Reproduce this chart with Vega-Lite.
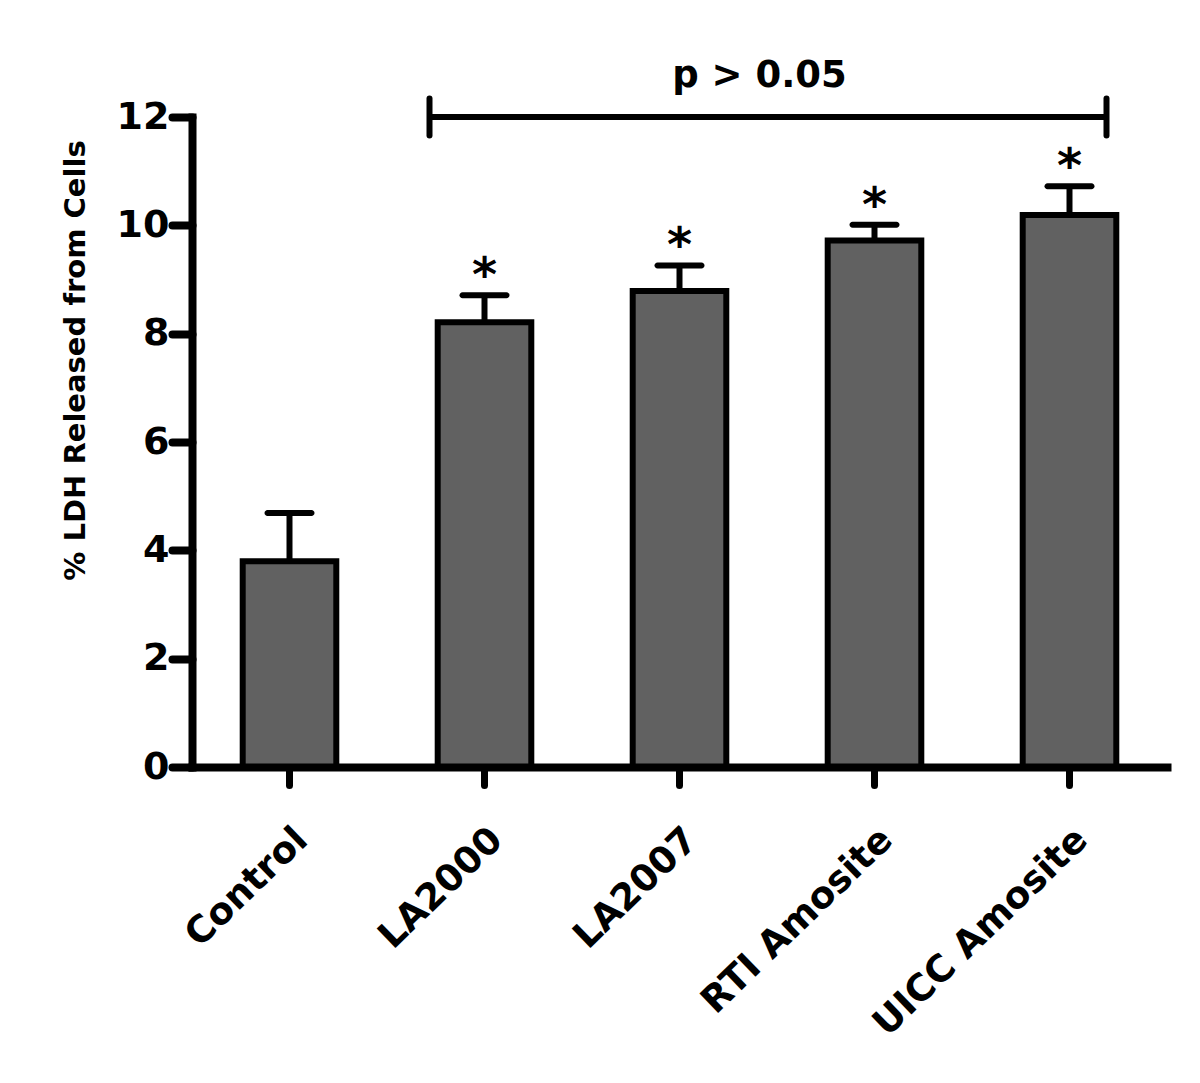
{
  "$schema": "https://vega.github.io/schema/vega-lite/v6.json",
  "width": 975,
  "height": 650,
  "autosize": {"type": "none"},
  "padding": {"left": 192, "top": 117, "right": 33, "bottom": 316},
  "background": "white",
  "config": {"view": {"stroke": null}, "font": "DejaVu Sans"},
  "datasets": {
    "bars": [
      {"group": "Control", "value": 3.80, "upper": 4.69, "sig": ""},
      {"group": "LA2000", "value": 8.21, "upper": 8.71, "sig": "*"},
      {"group": "LA2007", "value": 8.79, "upper": 9.26, "sig": "*"},
      {"group": "RTI Amosite", "value": 9.72, "upper": 10.01, "sig": "*"},
      {"group": "UICC Amosite", "value": 10.19, "upper": 10.72, "sig": "*"}
    ],
    "bracket": [
      {"from": "LA2000", "to": "UICC Amosite", "label": "p > 0.05"}
    ]
  },
  "layer": [
    {
      "data": {"name": "bars"},
      "mark": {"type": "bar", "fill": "#616161", "stroke": "black", "strokeWidth": 6},
      "encoding": {
        "x": {
          "field": "group",
          "type": "nominal",
          "sort": null,
          "scale": {"domain": ["Control", "LA2000", "LA2007", "RTI Amosite", "UICC Amosite"], "paddingInner": 0.52, "paddingOuter": 0.26},
          "axis": {
            "title": null,
            "zindex": 1,
            "domainWidth": 8,
            "domainColor": "black",
            "domainCap": "square",
            "tickWidth": 7,
            "tickColor": "black",
            "tickSize": 18,
            "tickCap": "round",
            "labelAngle": -44,
            "labelAlign": "right",
            "labelBaseline": "top",
            "labelFont": "DejaVu Sans",
            "labelFontWeight": "bold",
            "labelFontSize": 37,
            "labelColor": "black",
            "labelPadding": 36,
            "labelOffset": 0,
            "labelLimit": 0,
            "labelOverlap": false,
            "grid": false
          }
        },
        "y": {
          "field": "value",
          "type": "quantitative",
          "scale": {"domain": [0, 12], "nice": false},
          "axis": {
            "title": "% LDH Released from Cells",
            "zindex": 1,
            "values": [0, 2, 4, 6, 8, 10, 12],
            "format": "d",
            "domainWidth": 8,
            "domainColor": "black",
            "domainCap": "square",
            "tickWidth": 8,
            "tickColor": "black",
            "tickSize": 20,
            "tickCap": "round",
            "labelFont": "DejaVu Sans",
            "labelFontWeight": "bold",
            "labelFontSize": 38,
            "labelColor": "black",
            "labelPadding": 3,
            "titleFont": "DejaVu Sans",
            "titleFontWeight": "bold",
            "titleFontSize": 29,
            "titleColor": "black",
            "titleAngle": -90,
            "titleAlign": "center",
            "titleBaseline": "middle",
            "titleX": -117,
            "titleY": 243,
            "grid": false
          }
        }
      }
    },
    {
      "data": {"name": "bars"},
      "mark": {"type": "rule", "color": "black", "strokeWidth": 6},
      "encoding": {
        "x": {"field": "group", "type": "nominal"},
        "y": {"field": "value", "type": "quantitative"},
        "y2": {"field": "upper"}
      }
    },
    {
      "data": {"name": "bars"},
      "mark": {"type": "tick", "color": "black", "size": 50, "thickness": 6, "cornerRadius": 3, "opacity": 1},
      "encoding": {
        "x": {"field": "group", "type": "nominal"},
        "y": {"field": "upper", "type": "quantitative"}
      }
    },
    {
      "data": {"name": "bars"},
      "mark": {"type": "text", "font": "DejaVu Sans", "fontWeight": "bold", "fontSize": 48, "color": "black", "baseline": "alphabetic", "align": "center", "dy": -4},
      "encoding": {
        "x": {"field": "group", "type": "nominal"},
        "y": {"field": "upper", "type": "quantitative"},
        "text": {"field": "sig"}
      }
    },
    {
      "data": {"name": "bracket"},
      "mark": {"type": "rule", "color": "black", "strokeWidth": 6, "xOffset": -55, "x2Offset": 37},
      "encoding": {
        "x": {"field": "from", "type": "nominal"},
        "x2": {"field": "to"},
        "y": {"datum": 12}
      }
    },
    {
      "data": {"name": "bracket"},
      "mark": {"type": "rule", "color": "black", "strokeWidth": 6, "strokeCap": "round", "xOffset": -55},
      "encoding": {
        "x": {"field": "from", "type": "nominal"},
        "y": {"datum": 11.66},
        "y2": {"datum": 12.34}
      }
    },
    {
      "data": {"name": "bracket"},
      "mark": {"type": "rule", "color": "black", "strokeWidth": 6, "strokeCap": "round", "xOffset": 37},
      "encoding": {
        "x": {"field": "to", "type": "nominal"},
        "y": {"datum": 11.66},
        "y2": {"datum": 12.34}
      }
    },
    {
      "data": {"name": "bracket"},
      "mark": {"type": "text", "font": "DejaVu Sans", "fontWeight": "bold", "fontSize": 37, "color": "black", "baseline": "alphabetic", "align": "center", "dy": -30, "xOffset": 80},
      "encoding": {
        "x": {"datum": "LA2007"},
        "y": {"datum": 12},
        "text": {"field": "label"}
      }
    }
  ]
}
